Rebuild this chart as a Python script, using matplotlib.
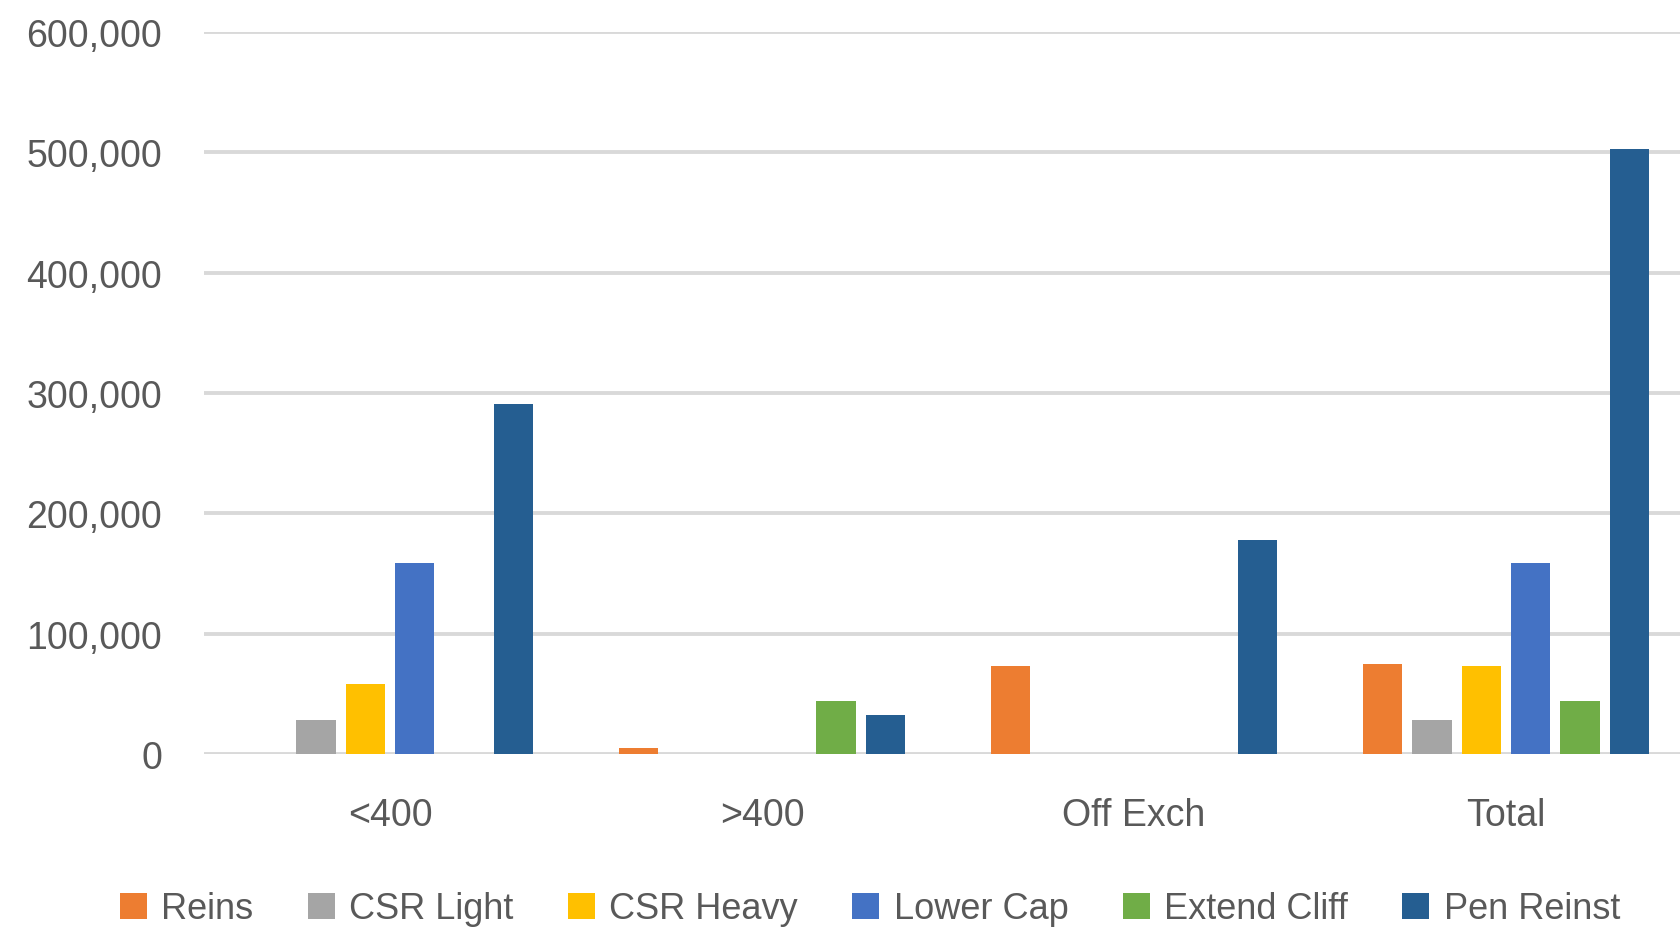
import matplotlib
matplotlib.use("Agg")
import matplotlib.pyplot as plt
from matplotlib.ticker import FuncFormatter
from matplotlib.patches import Patch
import numpy as np

plt.rcParams['font.family'] = ['Liberation Sans Narrow', 'Liberation Sans', 'DejaVu Sans']

categories = ["<400", ">400", "Off Exch", "Total"]
series_names = ["Reins", "CSR Light", "CSR Heavy", "Lower Cap", "Extend Cliff", "Pen Reinst"]
reins        = [0, 5000, 73000, 75000]
csr_light    = [28500, 0, 0, 28500]
csr_heavy    = [58000, 0, 0, 73000]
lower_cap    = [158500, 0, 0, 158500]
extend_cliff = [0, 44000, 0, 44000]
pen_reinst   = [291000, 32000, 178000, 503000]
colors = ["#ED7D31", "#A5A5A5", "#FFC000", "#4472C4", "#70AD47", "#255E91"]
yticks = [0, 100000, 200000, 300000, 400000, 500000, 600000]

series = [reins, csr_light, csr_heavy, lower_cap, extend_cliff, pen_reinst]

fig = plt.figure(figsize=(16.8, 9.28), dpi=100)
ax = fig.add_axes([204/1680, (928-755)/928, 1488/1680, (755-33)/928])

x = np.arange(len(categories))
step = 0.1326
bw = step * 0.8
n = len(series)
for i, (vals, c) in enumerate(zip(series, colors)):
    offs = (i - (n - 1) / 2) * step
    xs = [xi + offs for xi, v in zip(x, vals) if v > 0]
    hs = [v for v in vals if v > 0]
    ax.bar(xs, hs, width=bw, color=c, zorder=3, linewidth=0)

ax.set_xlim(-0.5, len(categories) - 0.5)
ax.set_ylim(0, 600000)
ax.set_yticks(yticks)
ax.yaxis.set_major_formatter(FuncFormatter(lambda v, p: f"{int(v):,}"))
ax.set_xticks(x)
ax.set_xticklabels(categories)
ax.grid(axis='y', color='#D9D9D9', linewidth=2.8, zorder=0)
ax.set_axisbelow(True)
for s in ax.spines.values():
    s.set_visible(False)
ax.tick_params(axis='both', length=0, labelsize=27, labelcolor='#595959')
ax.tick_params(axis='y', pad=30)
ax.tick_params(axis='x', pad=31)

handles = [Patch(facecolor=c, edgecolor='none', label=nm) for c, nm in zip(colors, series_names)]
fig.legend(handles=handles, loc='center', bbox_to_anchor=(870/1680, 1 - 910/928), ncol=6,
           frameon=False, fontsize=26, labelcolor='#595959', handlelength=0.75, handleheight=0.75,
           handletextpad=0.4, columnspacing=1.5)

fig.savefig("out.png", dpi=100)
